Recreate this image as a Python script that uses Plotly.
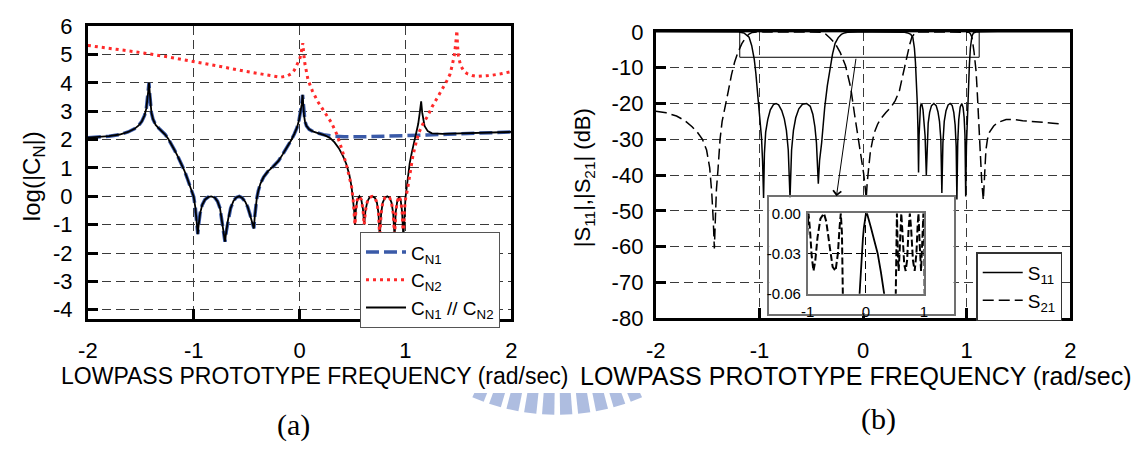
import math
import plotly.graph_objects as go

W, H = 1139, 457


def px(x):
    return x / W


def py(y):
    return 1 - y / H


FONT = "Liberation Sans, Arial, Helvetica, sans-serif"
SERIF = "Liberation Serif, Times New Roman, serif"

# ---------------- panel (a): log(|C_N|) ----------------
cn1_x = [-2.00, -1.90, -1.80, -1.70, -1.62, -1.56, -1.52, -1.49, -1.465, -1.448,
         -1.437, -1.429, -1.423, -1.418, -1.41, -1.40, -1.385, -1.36, -1.33, -1.30,
         -1.27, -1.24, -1.21, -1.18, -1.15, -1.12, -1.09, -1.06, -1.03, -1.00,
         -0.985, -0.972, -0.962, -0.952, -0.94, -0.92, -0.895, -0.865, -0.835, -0.80,
         -0.775, -0.752, -0.735, -0.718, -0.705, -0.692, -0.675, -0.652, -0.625, -0.598,
         -0.57, -0.545, -0.515, -0.49, -0.47, -0.455, -0.443, -0.432, -0.424, -0.415,
         -0.405, -0.39, -0.37, -0.34, -0.30, -0.25, -0.20, -0.16, -0.12, -0.08,
         -0.05, -0.025, -0.005, 0.010, 0.020, 0.028, 0.034, 0.041, 0.050, 0.065,
         0.09, 0.13, 0.18, 0.24, 0.32, 0.42, 0.60, 0.80, 1.00, 1.20,
         1.40, 1.60, 1.80, 2.00]
cn1_y = [2.07, 2.09, 2.12, 2.18, 2.27, 2.38, 2.50, 2.65, 2.85, 3.10,
         3.40, 3.75, 4.00, 3.70, 3.25, 2.95, 2.72, 2.52, 2.40, 2.30,
         2.18, 2.02, 1.84, 1.62, 1.40, 1.17, 0.92, 0.62, 0.30, -0.02,
         -0.40, -0.85, -1.33, -0.95, -0.60, -0.30, -0.12, -0.03, 0.00, -0.05,
         -0.18, -0.42, -0.80, -1.22, -1.60, -1.22, -0.80, -0.42, -0.16, -0.04,
         0.00, -0.05, -0.18, -0.38, -0.62, -0.85, -1.00, -1.13, -0.72, -0.38,
         -0.08, 0.20, 0.45, 0.68, 0.88, 1.05, 1.25, 1.48, 1.72, 1.98,
         2.20, 2.42, 2.70, 2.98, 3.25, 3.58, 3.20, 2.88, 2.65, 2.48,
         2.36, 2.28, 2.22, 2.16, 2.12, 2.10, 2.10, 2.11, 2.13, 2.16,
         2.19, 2.22, 2.25, 2.27]

# passband ripple shared by C_N2 and C_N1 // C_N2
ripple_x = [0.505, 0.515, 0.523, 0.532, 0.545, 0.565, 0.583, 0.598, 0.61, 0.622,
            0.64, 0.66, 0.685, 0.71, 0.73, 0.745, 0.757, 0.77, 0.785, 0.805,
            0.828, 0.85, 0.868, 0.884, 0.897, 0.908, 0.922, 0.94, 0.955, 0.968,
            0.98, 0.99]
ripple_y = [-0.10, -0.50, -1.00, -0.45, -0.12, 0.00, -0.12, -0.45, -1.00, -0.50,
            -0.18, -0.04, 0.00, -0.05, -0.22, -0.60, -1.45, -0.60, -0.22, -0.05,
            0.00, -0.05, -0.22, -0.60, -1.45, -0.55, -0.18, 0.00, -0.15, -0.55,
            -1.45, -0.50]

cn12_mid_x = [0.24, 0.29, 0.33, 0.37, 0.41, 0.44, 0.47, 0.49]
cn12_mid_y = [2.15, 2.05, 1.90, 1.70, 1.42, 1.15, 0.75, 0.35]
cn12_end_x = [1.00, 1.01, 1.025, 1.04, 1.06, 1.08, 1.10, 1.12, 1.135, 1.148,
              1.158, 1.168, 1.18, 1.21, 1.25, 1.35, 1.50, 1.70, 1.85, 2.00]
cn12_end_y = [-0.05, 0.27, 0.75, 1.17, 1.55, 1.85, 2.20, 2.55, 2.95, 3.35,
              2.95, 2.65, 2.48, 2.30, 2.22, 2.20, 2.21, 2.24, 2.26, 2.27]

cn2_start_x = [-2.00, -1.75, -1.50, -1.25, -1.00, -0.75, -0.50, -0.35, -0.25, -0.18,
               -0.12, -0.08, -0.05, -0.02, 0.00, 0.012, 0.022, 0.030, 0.038, 0.05,
               0.08, 0.12, 0.17, 0.24, 0.30, 0.35, 0.40, 0.45, 0.49]
cn2_start_y = [5.32, 5.20, 5.07, 4.92, 4.76, 4.58, 4.40, 4.30, 4.23, 4.20,
               4.24, 4.32, 4.45, 4.65, 4.83, 5.00, 5.20, 5.40, 5.05, 4.67,
               4.10, 3.72, 3.35, 2.95, 2.60, 2.20, 1.65, 1.00, 0.35]
cn2_end_x = [1.00, 1.02, 1.045, 1.07, 1.10, 1.13, 1.17, 1.21, 1.25, 1.30,
             1.35, 1.39, 1.42, 1.44, 1.46, 1.475, 1.485, 1.492, 1.50, 1.52,
             1.55, 1.58, 1.63, 1.68, 1.75, 1.80, 1.90, 2.00]
cn2_end_y = [-0.10, 0.27, 0.90, 1.43, 1.90, 2.27, 2.60, 2.83, 3.15, 3.50,
             3.80, 4.07, 4.30, 4.60, 4.95, 5.40, 5.85, 5.30, 4.95, 4.62,
             4.42, 4.33, 4.26, 4.23, 4.24, 4.26, 4.32, 4.40]

# ---------------- panel (b): |S11|, |S21| in dB ----------------
s11_x = [-2.00, -1.40, -1.20, -1.15, -1.12, -1.10, -1.075, -1.05, -1.035, -1.02,
         -1.00, -0.98, -0.97, -0.96, -0.952, -0.94, -0.92, -0.895, -0.865, -0.84,
         -0.815, -0.785, -0.76, -0.74, -0.722, -0.705, -0.69, -0.672, -0.65, -0.62,
         -0.585, -0.545, -0.51, -0.485, -0.465, -0.45, -0.432, -0.42, -0.40, -0.385,
         -0.37, -0.345, -0.32, -0.295, -0.27, -0.24, -0.21, -0.18, -0.15, -0.107,
         -0.085, -0.068, -0.05, -0.034, -0.018, 0.00, 0.02, 0.05, 0.09, 0.15,
         0.204, 0.26, 0.32, 0.35, 0.40, 0.43, 0.46, 0.48, 0.495, 0.505,
         0.515, 0.523, 0.529, 0.535, 0.540, 0.546, 0.553, 0.56, 0.568, 0.578,
         0.588, 0.598, 0.61, 0.618, 0.628, 0.642, 0.66, 0.683, 0.705, 0.722,
         0.737, 0.75, 0.76, 0.77, 0.783, 0.80, 0.82, 0.84, 0.86, 0.875,
         0.888, 0.898, 0.905, 0.913, 0.923, 0.937, 0.952, 0.965, 0.975, 0.983,
         0.99, 0.997, 1.005, 1.015, 1.025, 1.035, 1.05, 1.065, 1.09, 1.30,
         2.00]
s11_y = [0.0, 0.0, -0.05, -0.3, -0.9, -1.5, -3.8, -7.7, -11.5, -16.5,
         -23.0, -29.6, -36.0, -46.4, -34.0, -28.0, -24.5, -21.8, -20.3, -20.0,
         -20.4, -22.0, -24.3, -27.5, -33.0, -46.4, -33.0, -27.5, -24.0, -21.5,
         -20.2, -20.0, -20.8, -23.0, -26.5, -31.0, -42.4, -36.0, -31.0, -25.0,
         -21.0, -15.0, -10.3, -6.2, -3.2, -1.6, -0.7, -0.3, -0.13, -0.06,
         -0.042, -0.03, -0.019, -0.011, -0.005, -0.001, 0.0, -0.004, -0.011, -0.021,
         -0.03, -0.044, -0.06, -0.07, -0.12, -0.3, -0.7, -1.6, -4.5, -8.5,
         -14.0, -20.0, -27.0, -39.3, -29.0, -23.5, -21.0, -20.1, -20.3, -21.8,
         -24.5, -29.0, -40.0, -30.0, -25.5, -22.5, -20.6, -20.0, -20.6, -22.3,
         -25.0, -30.0, -45.0, -31.0, -25.0, -22.0, -20.4, -20.0, -20.6, -22.5,
         -26.0, -32.0, -46.8, -31.0, -24.5, -21.0, -20.0, -21.2, -24.0, -29.0,
         -46.0, -32.0, -24.0, -16.0, -9.5, -4.5, -1.2, -0.3, -0.06, 0.0,
         0.0]

s21_x = [-2.00, -1.90, -1.80, -1.72, -1.65, -1.60, -1.55, -1.51, -1.48, -1.46,
         -1.445, -1.435, -1.425, -1.415, -1.40, -1.38, -1.36, -1.33, -1.30, -1.27,
         -1.24, -1.21, -1.17, -1.13, -1.10, -1.07, -1.04, -1.00, -0.985, -0.96,
         -0.93, -0.90, -0.87, -0.83, -0.78, -0.72, -0.68, -0.62, -0.57, -0.52,
         -0.48, -0.45, -0.43, -0.41, -0.395, -0.385, -0.37, -0.35, -0.32, -0.27,
         -0.22, -0.17, -0.12, -0.08, -0.05, -0.02, 0.005, 0.02, 0.03, 0.04,
         0.055, 0.07, 0.09, 0.11, 0.14, 0.17, 0.22, 0.27, 0.31, 0.35,
         0.38, 0.41, 0.43, 0.45, 0.47, 0.49, 0.505, 0.515, 0.525, 0.535,
         0.55, 0.565, 0.585, 0.61, 0.635, 0.66, 0.685, 0.71, 0.735, 0.757,
         0.78, 0.81, 0.84, 0.87, 0.89, 0.905, 0.925, 0.95, 0.97, 0.99,
         1.005, 1.02, 1.035, 1.05, 1.07, 1.09, 1.10, 1.115, 1.13, 1.145,
         1.16, 1.17, 1.185, 1.20, 1.22, 1.26, 1.30, 1.38, 1.46, 1.54,
         1.64, 1.73, 1.83, 1.93]
s21_y = [-22.2, -22.6, -23.5, -24.8, -26.5, -28.0, -30.0, -33.0, -38.0, -45.0,
         -53.0, -60.5, -52.0, -44.0, -38.5, -30.0, -25.0, -21.0, -16.5, -12.0,
         -8.5, -5.9, -3.3, -1.5, -0.6, -0.15, -0.04, -0.012, 0.0, -0.012,
         -0.032, -0.043, -0.036, -0.018, -0.004, 0.0, -0.006, -0.025, -0.040, -0.043,
         -0.030, -0.010, 0.0, -0.015, -0.06, -0.15, -0.4, -0.9, -1.7, -3.2,
         -5.8, -9.4, -15.5, -23.5, -29.0, -34.0, -39.5, -43.5, -46.5, -42.0,
         -37.0, -33.5, -30.5, -28.0, -25.8, -24.3, -22.5, -21.0, -19.2, -16.5,
         -12.5, -8.5, -5.9, -3.5, -1.5, -0.5, -0.15, -0.06, -0.015, 0.0,
         -0.03, -0.043, -0.025, 0.0, -0.018, -0.038, -0.043, -0.035, -0.012, 0.0,
         -0.012, -0.035, -0.043, -0.03, -0.01, 0.0, -0.022, -0.043, -0.022, 0.0,
         -0.02, -0.12, -0.5, -1.5, -5.5, -11.0, -16.0, -25.0, -34.0, -42.0,
         -47.0, -40.0, -33.0, -30.0, -28.0, -26.3, -25.3, -24.5, -24.5, -24.8,
         -25.0, -25.2, -25.5, -25.8]

# ticks
a_xticks = [-2, -1, 0, 1, 2]
a_xtext = ["-2", "-1", "0", "1", "2"]
a_yticks = [-4, -3, -2, -1, 0, 1, 2, 3, 4, 5, 6]
a_ytext = ["-4", "-3", "-2", "-1", "0", "1", "2", "3", "4", "5", "6"]
b_yticks = [-80, -70, -60, -50, -40, -30, -20, -10, 0]
b_ytext = ["-80", "-70", "-60", "-50", "-40", "-30", "-20", "-10", "0"]
in_xticks = [-1, 0, 1]
in_xtext = ["-1", "0", "1"]
in_yticks = [-0.06, -0.03, 0.0]
in_ytext = ["-0.06", "-0.03", "0.00"]

# zoom box / arrow (data coordinates of panel b)
zoom_box_x = [-1.19, 1.12]
zoom_box_y = [-7.1, 0.0]
arrow_tail = [-0.067, -7.1]
arrow_head = [-0.257, -45.9]

cn12_x = [x for x in cn1_x if x <= 0.18] + cn12_mid_x + ripple_x + cn12_end_x
cn12_y = [y for x, y in zip(cn1_x, cn1_y) if x <= 0.18] + cn12_mid_y + ripple_y + cn12_end_y
cn2_x = cn2_start_x + ripple_x + cn2_end_x
cn2_y = cn2_start_y + ripple_y + cn2_end_y

fig = go.Figure()

fig.add_trace(go.Scatter(x=cn1_x, y=cn1_y, mode="lines", name="C<sub>N1</sub>",
                         line=dict(color="#3a5aa8", width=3.5, dash="13px,5px"),
                         xaxis="x", yaxis="y", legend="legend", legendrank=1))
fig.add_trace(go.Scatter(x=cn12_x, y=cn12_y, mode="lines", name="C<sub>N1</sub> // C<sub>N2</sub>",
                         line=dict(color="black", width=1.8),
                         xaxis="x", yaxis="y", legend="legend", legendrank=3))
fig.add_trace(go.Scatter(x=cn2_x, y=cn2_y, mode="lines", name="C<sub>N2</sub>",
                         line=dict(color="#ff2a2a", width=3, dash="3px,4px"),
                         xaxis="x", yaxis="y", legend="legend", legendrank=2))

fig.add_trace(go.Scatter(x=s11_x, y=s11_y, mode="lines", name="S<sub>11</sub>",
                         line=dict(color="black", width=1.5),
                         xaxis="x2", yaxis="y2", legend="legend2", legendrank=1))
fig.add_trace(go.Scatter(x=s21_x, y=s21_y, mode="lines", name="S<sub>21</sub>",
                         line=dict(color="black", width=1.5, dash="11px,5px"),
                         xaxis="x2", yaxis="y2", legend="legend2", legendrank=2))

# inset frame (cover) and inset
fig.add_trace(go.Scatter(x=[0.5], y=[0.5], mode="markers", marker=dict(opacity=0),
                         showlegend=False, hoverinfo="skip", xaxis="x3", yaxis="y3"))
fig.add_trace(go.Scatter(x=s11_x, y=s11_y, mode="lines", showlegend=False,
                         line=dict(color="black", width=1.8), xaxis="x4", yaxis="y4"))
fig.add_trace(go.Scatter(x=s21_x, y=s21_y, mode="lines", showlegend=False,
                         line=dict(color="black", width=2, dash="7px,3px"), xaxis="x4", yaxis="y4"))


def main_axis(**kw):
    d = dict(showline=True, linecolor="black", linewidth=3, mirror=True,
             ticks="inside", ticklen=10, tickwidth=3, tickcolor="black",
             showgrid=True, gridcolor="#3a3a3a", gridwidth=1, griddash="9px,5px",
             zeroline=False, tickfont=dict(family=FONT, size=22, color="black"))
    d.update(kw)
    return d


def inset_axis(**kw):
    d = dict(showline=True, linecolor="#707070", linewidth=1.5, mirror=True,
             ticks="", showgrid=True, gridcolor="black", gridwidth=1, griddash="8px,4px",
             zeroline=False, tickfont=dict(family=FONT, size=15, color="black"))
    d.update(kw)
    return d


cover = dict(showline=True, linecolor="#707070", linewidth=1.5, mirror=True,
             showgrid=False, zeroline=False, showticklabels=False, ticks="", range=[0, 1])

# watermark arc (decoration)
shapes = []
cx, cy, R, cut = 555, 216, 210, 403
for k in range(10):
    ang = -22.5 + 5 * k
    a1, a2 = math.radians(ang - 1.7), math.radians(ang + 1.7)
    pts = [(cx + (cut - cy) * math.tan(a1), cut),
           (cx + R * math.sin(a1), cy + R * math.cos(a1)),
           (cx + R * math.sin(a2), cy + R * math.cos(a2)),
           (cx + (cut - cy) * math.tan(a2), cut)]
    if min(p[1] for p in pts[1:3]) <= cut:
        continue
    path = "M " + " L ".join(f"{px(p[0]):.5f},{py(p[1]):.5f}" for p in pts) + " Z"
    shapes.append(dict(type="path", path=path, xref="paper", yref="paper",
                       fillcolor="#aebde0", line=dict(width=0), layer="above"))

shapes.append(dict(type="rect", xref="x2", yref="y2", x0=zoom_box_x[0], x1=zoom_box_x[1],
                   y0=zoom_box_y[0], y1=zoom_box_y[1], line=dict(color="black", width=1),
                   layer="above"))


def note(text, x, y, size, family=FONT, angle=0):
    return dict(text=text, x=px(x), y=py(y), xref="paper", yref="paper", showarrow=False,
                xanchor="center", yanchor="middle", textangle=angle,
                font=dict(family=family, size=size, color="black"))


annotations = [
    note("LOWPASS PROTOTYPE FREQUENCY (rad/sec)", 309, 385, 23),
    note("LOWPASS PROTOTYPE FREQUENCY (rad/sec)", 858, 385, 25),
    note("log(|C<sub>N</sub>|)", 24, 174, 24, angle=-90),
    note("|S<sub>11</sub>|,|S<sub>21</sub>| (dB)", 583, 175, 22, angle=-90),
    note("(a)", 288, 437, 30, family=SERIF),
    note("(b)", 881, 431, 30, family=SERIF),
    dict(text="", x=arrow_head[0], y=arrow_head[1], xref="x2", yref="y2",
         ax=arrow_tail[0], ay=arrow_tail[1], axref="x2", ayref="y2",
         showarrow=True, arrowhead=4, arrowsize=1.6, arrowwidth=1, arrowcolor="black"),
]

fig.update_layout(
    width=W, height=H, margin=dict(l=0, r=0, t=0, b=0),
    paper_bgcolor="white", plot_bgcolor="white", showlegend=True,
    font=dict(family=FONT, color="black"),
    xaxis=main_axis(domain=[px(79), px(508.5)], range=[-2, 2], tickvals=a_xticks, ticktext=a_xtext,
                    anchor="y", ticklabelstandoff=9),
    yaxis=main_axis(domain=[py(325), py(15)], range=[-4.333, 6], tickvals=a_yticks, ticktext=a_ytext,
                    anchor="x", ticklabelstandoff=8),
    xaxis2=main_axis(domain=[px(655), px(1075.5)], range=[-2, 2], tickvals=a_xticks, ticktext=a_xtext,
                     anchor="y2", ticklabelstandoff=10),
    yaxis2=main_axis(domain=[py(324), py(21)], range=[-80, 0], tickvals=b_yticks, ticktext=b_ytext,
                     anchor="x2", ticklabelstandoff=5),
    xaxis3=dict(cover, domain=[px(770), px(957)], anchor="y3"),
    yaxis3=dict(cover, domain=[py(319), py(196)], anchor="x3"),
    xaxis4=inset_axis(domain=[px(809), px(927)], range=[-1, 1], tickvals=in_xticks, ticktext=in_xtext,
                      anchor="y4", ticklabelstandoff=4),
    yaxis4=inset_axis(domain=[py(298), py(213)], range=[-0.06, 0], tickvals=in_yticks, ticktext=in_ytext,
                      anchor="x4", ticklabelstandoff=2),
    legend=dict(x=px(355), y=py(233), xanchor="left", yanchor="top", bgcolor="white",
                bordercolor="#555555", borderwidth=1, font=dict(family=FONT, size=19, color="black"),
                itemwidth=40, tracegroupgap=0, traceorder="normal"),
    legend2=dict(x=px(980), y=py(254), xanchor="left", yanchor="top", bgcolor="white",
                 bordercolor="#333333", borderwidth=1.5, font=dict(family=FONT, size=19, color="black"),
                 itemwidth=40, tracegroupgap=0, traceorder="normal"),
    shapes=shapes, annotations=annotations,
)

fig.write_html("out.html")
